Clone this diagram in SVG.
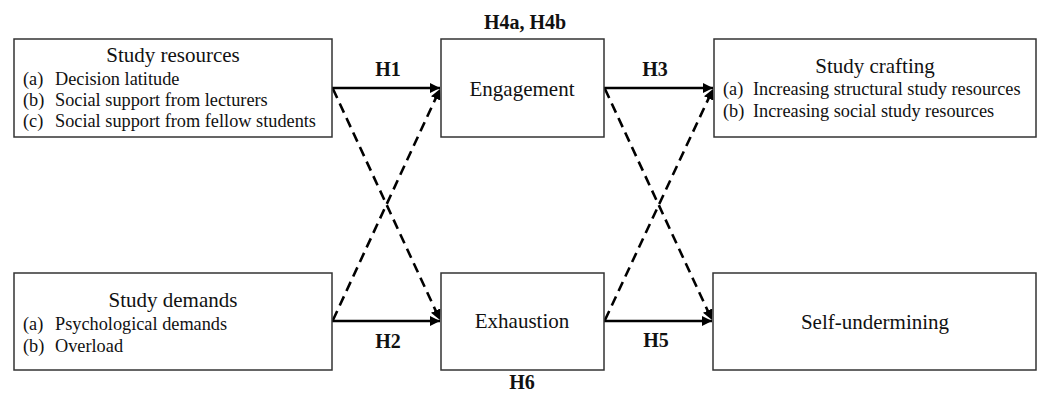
<svg xmlns="http://www.w3.org/2000/svg" width="1038" height="396" viewBox="0 0 1038 396">
<style>
.box{fill:#fff;stroke:#333;stroke-width:1.5}
.t{font-family:"Liberation Serif","Times New Roman",serif;fill:#111}
.title{font-size:21px;text-anchor:middle}
.item{font-size:18.3px}
.lab{font-size:20px;font-weight:bold;text-anchor:middle}
.solid{stroke:#000;stroke-width:2.6;fill:none}
.dash{stroke:#000;stroke-width:2.6;fill:none;stroke-dasharray:10 6}
</style>
<defs>
<marker id="ah" viewBox="0 0 10 10" refX="10" refY="5" markerWidth="4" markerHeight="4" orient="auto" markerUnits="strokeWidth">
<path d="M0,0 L10,5 L0,10 z" fill="#000"/>
</marker>
</defs>
<g id="connectors">
<line class="solid" x1="332" y1="88" x2="440" y2="88" marker-end="url(#ah)"/>
<line class="solid" x1="604" y1="88" x2="713" y2="88" marker-end="url(#ah)"/>
<line class="solid" x1="332" y1="321" x2="440" y2="321" marker-end="url(#ah)"/>
<line class="solid" x1="604" y1="321" x2="712" y2="321" marker-end="url(#ah)"/>
<line class="dash" x1="333" y1="89" x2="440" y2="320" marker-end="url(#ah)"/>
<line class="dash" x1="333" y1="320" x2="440" y2="89" marker-end="url(#ah)"/>
<line class="dash" x1="605" y1="89" x2="712" y2="320" marker-end="url(#ah)"/>
<line class="dash" x1="605" y1="320" x2="713" y2="89" marker-end="url(#ah)"/>
<text class="t lab" x="388" y="76">H1</text>
<text class="t lab" x="655" y="76">H3</text>
<text class="t lab" x="388" y="348">H2</text>
<text class="t lab" x="656" y="347">H5</text>
<text class="t lab" x="525" y="29">H4a, H4b</text>
<text class="t lab" x="522" y="389">H6</text>
</g>
<g id="study-resources">
<rect class="box" x="14" y="39" width="318" height="98"/>
<text class="t title" x="173" y="62">Study resources</text>
<text class="t item" x="23" y="85">(a)</text><text class="t item" x="55" y="85">Decision latitude</text>
<text class="t item" x="23" y="106">(b)</text><text class="t item" x="55" y="106">Social support from lecturers</text>
<text class="t item" x="23" y="127">(c)</text><text class="t item" x="55" y="127">Social support from fellow students</text>
</g>
<g id="engagement">
<rect class="box" x="441" y="39" width="163" height="98"/>
<text class="t title" x="522" y="96">Engagement</text>
</g>
<g id="study-crafting">
<rect class="box" x="714" y="39" width="322" height="98"/>
<text class="t title" x="875" y="73">Study crafting</text>
<text class="t item" x="723" y="95">(a)</text><text class="t item" x="753" y="95">Increasing structural study resources</text>
<text class="t item" x="723" y="117">(b)</text><text class="t item" x="753" y="117">Increasing social study resources</text>
</g>
<g id="study-demands">
<rect class="box" x="14" y="273" width="318" height="97"/>
<text class="t title" x="173" y="307">Study demands</text>
<text class="t item" x="23" y="330">(a)</text><text class="t item" x="55" y="330">Psychological demands</text>
<text class="t item" x="23" y="352">(b)</text><text class="t item" x="55" y="352">Overload</text>
</g>
<g id="exhaustion">
<rect class="box" x="441" y="273" width="163" height="97"/>
<text class="t title" x="522" y="328">Exhaustion</text>
</g>
<g id="self-undermining">
<rect class="box" x="713" y="273" width="323" height="97"/>
<text class="t title" x="875" y="329">Self-undermining</text>
</g>
</svg>
